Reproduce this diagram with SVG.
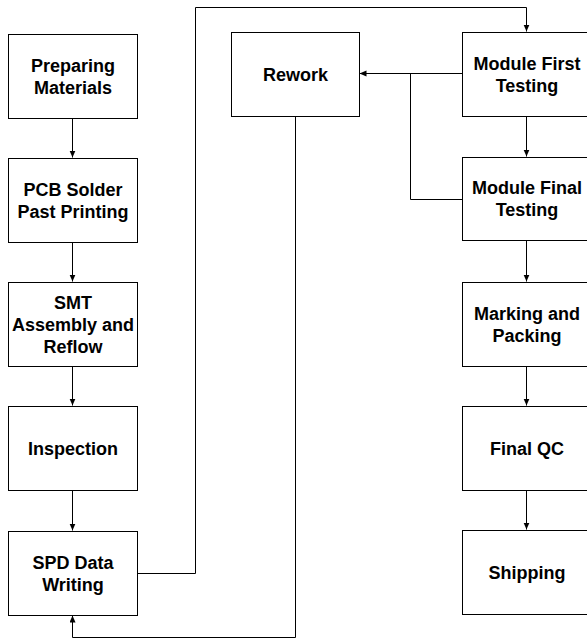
<svg xmlns="http://www.w3.org/2000/svg" width="587" height="639" viewBox="0 0 587 639">
<style>
.box{fill:#fff;stroke:#000;stroke-width:1}
.t{font-family:"Liberation Sans",Arial,sans-serif;font-weight:bold;font-size:18px;text-anchor:middle;fill:#000}
.c{fill:none;stroke:#000;stroke-width:1}
</style>
<defs>
<marker id="ah" markerUnits="userSpaceOnUse" markerWidth="8" markerHeight="8" refX="7" refY="3" orient="auto">
<path d="M0,0 L7,3 L0,6 z" fill="#000"/>
</marker>
</defs>
<rect width="587" height="639" fill="#fff"/>
<g id="connectors">
<path class="c" d="M72.5,118.5 V157.5" marker-end="url(#ah)"/>
<path class="c" d="M72.5,242.5 V281.5" marker-end="url(#ah)"/>
<path class="c" d="M72.5,366.5 V405.5" marker-end="url(#ah)"/>
<path class="c" d="M72.5,490.5 V530.5" marker-end="url(#ah)"/>
<path class="c" d="M137.5,573.5 H195.5 V7.5 H526.5 V31.5" marker-end="url(#ah)"/>
<path class="c" d="M462.5,73.5 H359.5" marker-end="url(#ah)"/>
<path class="c" d="M462.5,199.5 H410.5 V73.5"/>
<path class="c" d="M295.5,116.5 V637.5 H72.5 V615.5" marker-end="url(#ah)"/>
<path class="c" d="M526.5,116.5 V156.5" marker-end="url(#ah)"/>
<path class="c" d="M526.5,240.5 V281.5" marker-end="url(#ah)"/>
<path class="c" d="M526.5,366.5 V405.5" marker-end="url(#ah)"/>
<path class="c" d="M526.5,490.5 V529.5" marker-end="url(#ah)"/>
</g>
<g id="preparing"><rect class="box" x="8.5" y="34.5" width="129" height="84"/><text class="t" x="73" y="71.5">Preparing</text><text class="t" x="73" y="93.5">Materials</text></g>
<g id="pcb"><rect class="box" x="8.5" y="158.5" width="129" height="84"/><text class="t" x="73" y="195.5">PCB Solder</text><text class="t" x="73" y="217.5">Past Printing</text></g>
<g id="smt"><rect class="box" x="8.5" y="282.5" width="129" height="84"/><text class="t" x="73" y="308.5">SMT</text><text class="t" x="73" y="330.5">Assembly and</text><text class="t" x="73" y="353">Reflow</text></g>
<g id="inspection"><rect class="box" x="8.5" y="406.5" width="129" height="84"/><text class="t" x="73" y="454.5">Inspection</text></g>
<g id="spd"><rect class="box" x="8.5" y="531.5" width="129" height="84"/><text class="t" x="73" y="568.5">SPD Data</text><text class="t" x="73" y="590.5">Writing</text></g>
<g id="rework"><rect class="box" x="231.5" y="32.5" width="128" height="84"/><text class="t" x="295.5" y="80.5">Rework</text></g>
<g id="module-first"><rect class="box" x="462.5" y="32.5" width="129" height="84"/><text class="t" x="527" y="69.5">Module First</text><text class="t" x="527" y="91.5">Testing</text></g>
<g id="module-final"><rect class="box" x="462.5" y="157.5" width="129" height="83"/><text class="t" x="527" y="193.5">Module Final</text><text class="t" x="527" y="215.5">Testing</text></g>
<g id="marking"><rect class="box" x="462.5" y="282.5" width="129" height="84"/><text class="t" x="527" y="319.5">Marking and</text><text class="t" x="527" y="341.5">Packing</text></g>
<g id="finalqc"><rect class="box" x="462.5" y="406.5" width="129" height="84"/><text class="t" x="527" y="454.5">Final QC</text></g>
<g id="shipping"><rect class="box" x="462.5" y="530.5" width="129" height="84"/><text class="t" x="527" y="578.5">Shipping</text></g>
</svg>
